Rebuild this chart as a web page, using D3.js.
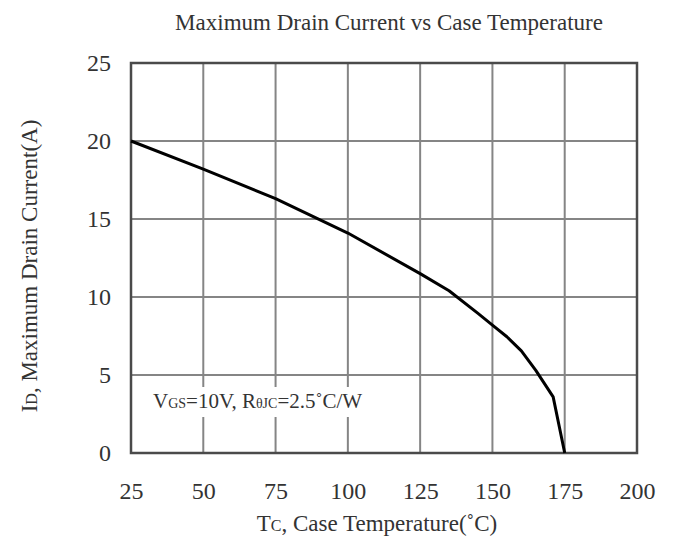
<!DOCTYPE html>
<html>
<head>
<meta charset="utf-8">
<script src="https://cdn.jsdelivr.net/npm/d3@7"></script>
<style>
  html, body { margin: 0; padding: 0; background: #fff; }
  svg text { font-family: "Liberation Serif", "DejaVu Serif", serif; fill: #333; }
</style>
</head>
<body>
<svg id="chart" width="674" height="538"></svg>
<script>
// Derating curve: case temperature (°C) vs maximum drain current (A)
const caseTemp   = [25, 50, 75, 100, 125, 135, 145, 150, 155, 160, 165, 171, 175];
const drainCurr  = [20, 18.2, 16.3, 14.1, 11.5, 10.4, 8.95, 8.2, 7.45, 6.55, 5.3, 3.6, 0];
const xTicks = [25, 50, 75, 100, 125, 150, 175, 200];
const yTicks = [0, 5, 10, 15, 20, 25];

const svg = d3.select("#chart");
const plotL = 131, plotR = 637, plotT = 63, plotB = 453;

const x = d3.scaleLinear().domain([25, 200]).range([plotL, plotR]);
const y = d3.scaleLinear().domain([0, 25]).range([plotB, plotT]);

// grid
const grid = svg.append("g").attr("stroke", "#858585").attr("stroke-width", 2);
grid.selectAll("line.v").data(xTicks.slice(1, -1)).join("line")
  .attr("x1", d => x(d)).attr("x2", d => x(d))
  .attr("y1", plotT).attr("y2", plotB);
grid.selectAll("line.h").data(yTicks.slice(1, -1)).join("line")
  .attr("y1", d => y(d)).attr("y2", d => y(d))
  .attr("x1", plotL).attr("x2", plotR);

// white backing behind the conditions note
svg.append("rect")
  .attr("x", 150).attr("y", 387).attr("width", 222).attr("height", 30)
  .attr("fill", "#fff");

// frame
svg.append("rect")
  .attr("x", plotL).attr("y", plotT)
  .attr("width", plotR - plotL).attr("height", plotB - plotT)
  .attr("fill", "none").attr("stroke", "#4a4a4a").attr("stroke-width", 2.5);

// tick labels via d3 axes
const xAxis = d3.axisBottom(x).tickValues(xTicks).tickSize(0).tickPadding(0).tickFormat(d3.format("d"));
const gx = svg.append("g").attr("transform", `translate(0,${plotB + 29})`).call(xAxis);
gx.select(".domain").remove();
gx.selectAll("text").attr("font-size", 24).attr("fill", "#333")
  .attr("font-family", "Liberation Serif, serif");

const yAxis = d3.axisLeft(y).tickValues(yTicks).tickSize(0).tickPadding(0).tickFormat(d3.format("d"));
const gy = svg.append("g").attr("transform", `translate(${plotL - 20},0)`).call(yAxis);
gy.select(".domain").remove();
gy.selectAll("text").attr("font-size", 24).attr("fill", "#333")
  .attr("font-family", "Liberation Serif, serif");

// curve
const line = d3.line()
  .x((d, i) => x(caseTemp[i]))
  .y((d, i) => y(drainCurr[i]))
  .curve(d3.curveLinear);
svg.append("path")
  .datum(drainCurr)
  .attr("d", line)
  .attr("fill", "none")
  .attr("stroke", "#000")
  .attr("stroke-width", 3)
  .attr("stroke-linejoin", "round");

// title
svg.append("text")
  .attr("x", 389).attr("y", 30)
  .attr("text-anchor", "middle").attr("font-size", 23)
  .text("Maximum Drain Current vs Case Temperature");

// x axis title
const xt = svg.append("text")
  .attr("x", 377).attr("y", 531)
  .attr("text-anchor", "middle").attr("font-size", 23);
xt.append("tspan").text("T");
xt.append("tspan").attr("font-size", 16).text("C");
xt.append("tspan").text(", Case Temperature(˚C)");

// y axis title
const yt = svg.append("text")
  .attr("transform", "translate(37,266) rotate(-90)")
  .attr("text-anchor", "middle").attr("font-size", 23);
yt.append("tspan").text("I");
yt.append("tspan").attr("font-size", 16).text("D");
yt.append("tspan").text(", Maximum Drain Current(A)");

// conditions note
const note = svg.append("text")
  .attr("x", 153).attr("y", 408).attr("font-size", 21);
note.append("tspan").text("V");
note.append("tspan").attr("font-size", 14).text("GS");
note.append("tspan").text("=10V, R");
note.append("tspan").attr("font-size", 14).text("θJC");
note.append("tspan").text("=2.5˚C/W");
</script>
</body>
</html>
